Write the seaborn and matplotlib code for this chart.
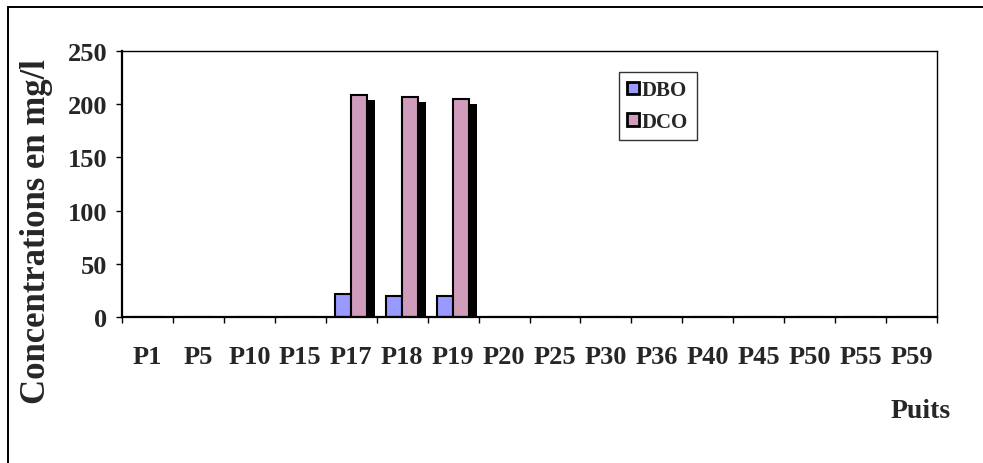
import pandas as pd
import seaborn as sns
import matplotlib
matplotlib.use("Agg")
import matplotlib.pyplot as plt
import matplotlib.patheffects as pe
from matplotlib.patches import Rectangle
from matplotlib.ticker import FixedLocator

# Valeurs
puits = ['P1', 'P5', 'P10', 'P15', 'P17', 'P18', 'P19', 'P20',
         'P25', 'P30', 'P36', 'P40', 'P45', 'P50', 'P55', 'P59']
dbo = [0, 0, 0, 0, 22, 20, 20, 0, 0, 0, 0, 0, 0, 0, 0, 0]
dco = [0, 0, 0, 0, 209, 207, 205, 0, 0, 0, 0, 0, 0, 0, 0, 0]
series = ['DBO', 'DCO']
couleurs = {'DBO': '#9999FF', 'DCO': '#D09CBC'}
y_ticks = [0, 50, 100, 150, 200, 250]

df = pd.DataFrame({
    'Puits': puits * 2,
    'Serie': ['DBO'] * len(puits) + ['DCO'] * len(puits),
    'Concentration': dbo + dco,
})

sns.set_style('white')
plt.rcParams['font.family'] = ['Liberation Serif', 'DejaVu Serif']
plt.rcParams['font.weight'] = 'bold'

fig = plt.figure(figsize=(9.83, 4.64), dpi=100)
ax = fig.add_axes([122 / 983, 1 - 318 / 464, (937 - 122) / 983, (318 - 52) / 464])

sns.barplot(data=df, x='Puits', y='Concentration', hue='Serie',
            hue_order=series, palette=couleurs, order=puits,
            width=0.62, edgecolor='black', linewidth=1.5, saturation=1,
            ax=ax)

# ombre portée comme dans Excel
for bar in ax.patches:
    if bar.get_height() > 0:
        bar.set_path_effects([
            pe.SimplePatchShadow(offset=(5.8, -3.6), shadow_rgbFace='black', alpha=1.0),
            pe.Normal(),
        ])

ax.set_xlim(-0.5, len(puits) - 0.5)
ax.set_ylim(0, 250)
ax.set_yticks(y_ticks)
ax.set_xlabel('')
ax.set_ylabel('')

for s in ['left', 'bottom']:
    ax.spines[s].set_linewidth(1.6)
for s in ['top', 'right']:
    ax.spines[s].set_linewidth(1.0)
for s in ax.spines.values():
    s.set_color('black')

ax.xaxis.set_minor_locator(FixedLocator([i - 0.5 for i in range(len(puits) + 1)]))
ax.tick_params(axis='x', which='major', length=0, pad=20, labelsize=19, bottom=True)
ax.tick_params(axis='x', which='minor', length=4.5, width=1, color='black',
               direction='out', bottom=True)
ax.tick_params(axis='y', which='major', length=4.5, width=1, color='black',
               direction='out', pad=6, labelsize=19, left=True)
for lab in ax.get_xticklabels() + ax.get_yticklabels():
    lab.set_fontweight('bold')

fig.text(37 / 983, 1 - 232 / 464, 'Concentrations en mg/l', rotation=90,
         ha='center', va='center', fontsize=25, fontweight='bold')
fig.text(951 / 983, 1 - 412 / 464, 'Puits', ha='right', va='center',
         fontsize=20, fontweight='bold')

handles, labels = ax.get_legend_handles_labels()
leg = ax.legend(handles, labels, loc='upper left',
                bbox_to_anchor=(619 / 983, 1 - 73 / 464),
                bbox_transform=fig.transFigure, frameon=True, fancybox=False,
                edgecolor='#333333', framealpha=1, borderpad=0.4,
                handlelength=0.55, handleheight=0.55, handletextpad=0.15,
                labelspacing=0.55, borderaxespad=0,
                prop={'size': 15, 'weight': 'bold'})
leg.get_frame().set_linewidth(1.0)
for h in leg.legend_handles:
    h.set_linewidth(2)
    h.set_edgecolor('black')

# cadre de la zone du graphique
fig.patches.append(Rectangle((7.5 / 983, -0.1), 1.2, 0.1 + 1 - 8 / 464,
                             transform=fig.transFigure, fill=False,
                             edgecolor='black', linewidth=1.4))

fig.savefig('out.png', dpi=100)
